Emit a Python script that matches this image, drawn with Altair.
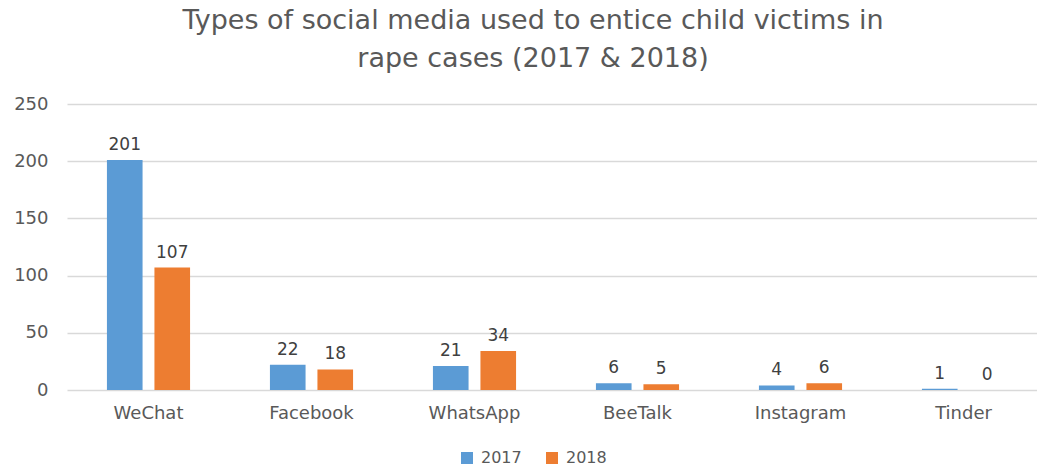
import altair as alt
import pandas as pd

categories = ["WeChat", "Facebook", "WhatsApp", "BeeTalk", "Instagram", "Tinder"]
values_2017 = [201, 22, 21, 6, 4, 1]
values_2018 = [107, 18, 34, 5, 6, 0]
years = ["2017", "2018"]

rows = []
for c, a, b in zip(categories, values_2017, values_2018):
    rows.append({"media": c, "year": "2017", "count": a})
    rows.append({"media": c, "year": "2018", "count": b})
df = pd.DataFrame(rows)

FONT = "DejaVu Sans"
GRAY = "#595959"

x = alt.X("media:N", sort=categories, title=None,
          scale=alt.Scale(paddingInner=0.49, paddingOuter=0.245, range=[0, 978]),
          axis=alt.Axis(labelAngle=0, labelFontSize=18, labelColor=GRAY, labelFont=FONT,
                        ticks=False, domain=False, labelPadding=14))
xo = alt.XOffset("year:N", sort=years, scale=alt.Scale(paddingInner=0.25))
y = alt.Y("count:Q", title=None,
          scale=alt.Scale(domain=[0, 250]),
          axis=alt.Axis(values=[0, 50, 100, 150, 200, 250], labelFontSize=18, labelColor=GRAY,
                        labelFont=FONT, ticks=False, domain=False, gridColor="#d9d9d9",
                        gridWidth=1.5, labelPadding=19))

bars = alt.Chart(df).mark_bar().encode(
    x=x, xOffset=xo, y=y,
    color=alt.Color("year:N", sort=years, title=None,
                    scale=alt.Scale(domain=years, range=["#5b9bd5", "#ed7d31"]),
                    legend=alt.Legend(orient="none", legendX=392, legendY=346, direction="horizontal",
                                      symbolType="square", symbolSize=144, labelFontSize=16,
                                      labelColor=GRAY, labelFont=FONT, columnPadding=22,
                                      labelOffset=6, symbolStrokeWidth=0)),
)
labels = alt.Chart(df).mark_text(dy=-15, fontSize=17, color="#404040", font=FONT).encode(
    x=x, xOffset=xo, y=y, text="count:Q")

chart = alt.layer(bars, labels).properties(
    width=968, height=286,
    padding={"left": 67, "top": 104, "right": 2, "bottom": 78},
    autosize=alt.AutoSizeParams(type="none"),
    title=alt.TitleParams(
        ["Types of social media used to entice child victims in", "rape cases (2017 & 2018)"],
        fontSize=27, font=FONT, color=GRAY, fontWeight="normal", lineHeight=38,
        anchor="middle", offset=22, dx=-18),
).configure_view(stroke=None)

chart.save("out.html", embed_options={"renderer": "svg", "actions": False})
